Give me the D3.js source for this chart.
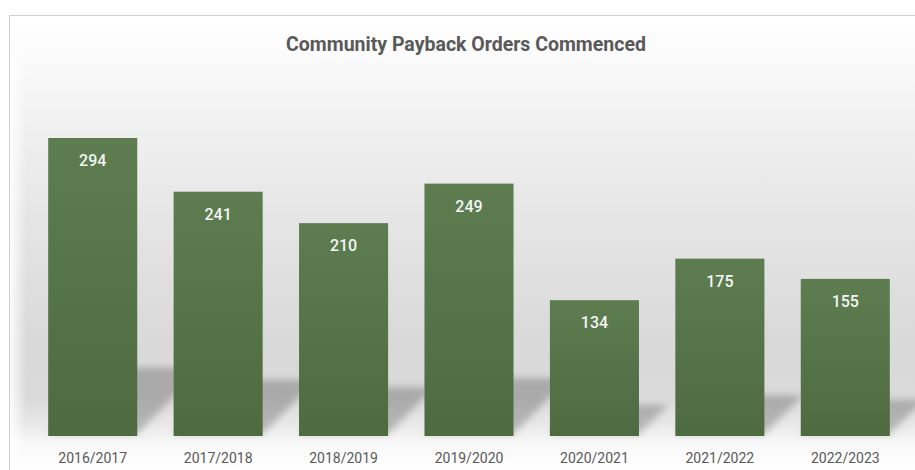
<!DOCTYPE html>
<html>
<head>
<meta charset="utf-8">
<script src="https://cdn.jsdelivr.net/npm/d3@7/dist/d3.min.js"></script>
<style>
  html, body { margin: 0; padding: 0; background: #ffffff; }
  svg { display: block; }
</style>
</head>
<body>
<svg id="chart" width="915" height="470"></svg>
<script>
// Community Payback Orders commenced, per financial year
const years = ["2016/2017", "2017/2018", "2018/2019", "2019/2020", "2020/2021", "2021/2022", "2022/2023"];
const orders = [294, 241, 210, 249, 134, 175, 155];
const chartTitle = "Community Payback Orders Commenced";

const W = 915, H = 470;
const frame = { left: 9.5, top: 15.5 };
const baseY = 436;

const svg = d3.select("#chart");
const defs = svg.append("defs");

// Plot background: white at the top, grey towards the floor, fading out below the bars
const bg = defs.append("linearGradient")
  .attr("id", "bgGrad").attr("gradientUnits", "userSpaceOnUse")
  .attr("x1", 0).attr("y1", frame.top).attr("x2", 0).attr("y2", H);
[[0, "#ffffff"], [0.06, "#fdfdfd"], [0.18, "#f4f4f4"], [0.45, "#e5e5e5"], [0.72, "#d9d9d9"],
 [0.84, "#dadada"], [0.9, "#e8e8e8"], [0.94, "#f8f8f8"], [1, "#ffffff"]]
  .forEach(([o, c]) => bg.append("stop").attr("offset", o).attr("stop-color", c));

// Soft white band along the left edge of the frame
const edge = defs.append("linearGradient")
  .attr("id", "edgeGrad").attr("x1", 0).attr("y1", 0).attr("x2", 1).attr("y2", 0);
edge.append("stop").attr("offset", 0).attr("stop-color", "#ffffff").attr("stop-opacity", 0.9);
edge.append("stop").attr("offset", 1).attr("stop-color", "#ffffff").attr("stop-opacity", 0);

// Bar fill: slightly lighter green at the top
const barGrad = defs.append("linearGradient")
  .attr("id", "barGrad").attr("x1", 0).attr("y1", 0).attr("x2", 0).attr("y2", 1);
barGrad.append("stop").attr("offset", 0).attr("stop-color", "#5d7d50");
barGrad.append("stop").attr("offset", 1).attr("stop-color", "#4e6a41");

const blur = defs.append("filter").attr("id", "shadowBlur")
  .attr("x", "-30%").attr("y", "-30%").attr("width", "160%").attr("height", "160%");
blur.append("feGaussianBlur").attr("stdDeviation", 3.5);

svg.append("rect")
  .attr("x", frame.left).attr("y", frame.top)
  .attr("width", W + 20).attr("height", H)
  .attr("fill", "url(#bgGrad)")
  .attr("stroke", "#d0d0d0").attr("stroke-width", 1);

svg.append("rect")
  .attr("x", frame.left + 0.5).attr("y", frame.top + 40)
  .attr("width", 16).attr("height", H)
  .attr("fill", "url(#edgeGrad)");

// Scales
const x = d3.scaleBand().domain(years).range([30, 908]).paddingInner(0.29).paddingOuter(0.145);
const y = d3.scaleLinear().domain([0, 350]).range([baseY, baseY - 350 * 1.0136]);

// Perspective floor shadows cast up and to the right of each bar
const shadowK = 0.23;
svg.append("g").attr("filter", "url(#shadowBlur)")
  .selectAll("path").data(years).join("path")
  .attr("d", (d, i) => {
    const x0 = x(d), x1 = x(d) + x.bandwidth();
    const h = (baseY - y(orders[i])) * shadowK;
    const s = h * 0.95;
    return `M${x0},${baseY - 2}L${x1},${baseY - 2}L${x1 + s},${baseY - h}L${x0 + s},${baseY - h}Z`;
  })
  .attr("fill", "#000000")
  .attr("fill-opacity", 0.22);

// Bars
svg.append("g").selectAll("rect").data(years).join("rect")
  .attr("x", d => x(d))
  .attr("y", (d, i) => y(orders[i]))
  .attr("width", x.bandwidth())
  .attr("height", (d, i) => baseY - y(orders[i]))
  .attr("fill", "url(#barGrad)");

// Value labels inside the top of each bar
svg.append("g").selectAll("text").data(years).join("text")
  .attr("x", d => x(d) + x.bandwidth() / 2)
  .attr("y", (d, i) => y(orders[i]) + 28)
  .attr("text-anchor", "middle")
  .attr("font-family", "Roboto, 'Noto Sans', sans-serif")
  .attr("font-size", 16)
  .attr("font-weight", 500)
  .attr("fill", "#f4f4f4")
  .text((d, i) => orders[i]);

// Category axis
const xAxis = svg.append("g")
  .attr("transform", `translate(0,${baseY})`)
  .call(d3.axisBottom(x).tickSize(0).tickPadding(17));
xAxis.select(".domain").remove();
xAxis.selectAll("text")
  .attr("font-family", "Roboto, 'Noto Sans', sans-serif")
  .attr("font-size", 14)
  .attr("fill", "#595959");

// Title
svg.append("text")
  .attr("x", 466).attr("y", 51)
  .attr("text-anchor", "middle")
  .attr("font-family", "Roboto, 'Noto Sans', sans-serif")
  .attr("font-size", 19.5)
  .attr("font-weight", 700)
  .attr("fill", "#595959")
  .text(chartTitle);
</script>
</body>
</html>
